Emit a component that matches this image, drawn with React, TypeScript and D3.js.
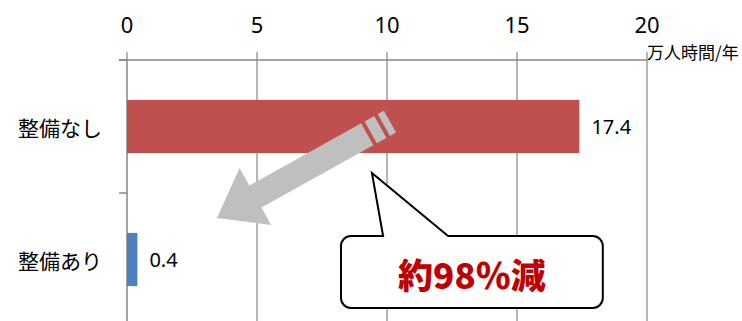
import React from "react";
import * as d3 from "d3";

const categories = ["整備なし", "整備あり"];
const values = [17.4, 0.4];
const barColors = ["#C0504D", "#4F81BD"];
const xTicks = [0, 5, 10, 15, 20];
const unitLabel = "万人時間/年";
const calloutText = "約98％減";

const W = 742;
const H = 321;

export default function App() {
  const x = d3.scaleLinear().domain([0, 20]).range([127, 647]);
  const y = d3
    .scaleBand<string>()
    .domain(categories)
    .range([60, 326])
    .paddingInner(0.6)
    .paddingOuter(0.3);
  const step = y.step();
  const bounds = [y.range()[0], y.range()[0] + step, y.range()[0] + 2 * step];
  const axisColor = "#868686";
  const numFont = "'Noto Sans', 'Liberation Sans', sans-serif";
  const cjkFont = "'Noto Sans CJK JP', sans-serif";

  // arrow annotation (local frame: tip at origin, +x toward tail)
  const tipX = x(3.46);
  const tipY = (y("整備あり") as number) - 15;
  const angle = -29.1;
  const headLen = 44;
  const headHalf = 32.5;
  const shaftHalf = 12.5;
  const shaftEnd = 172;
  const arrowPath = `M0,0 L${headLen},${-headHalf} L${headLen},${-shaftHalf} L${shaftEnd},${-shaftHalf} L${shaftEnd},${shaftHalf} L${headLen},${shaftHalf} L${headLen},${headHalf} Z`;
  const stripes = [
    [176, 187],
    [191, 198],
  ];

  // callout
  const bx0 = x(8.23);
  const bx1 = x(18.3);
  const by0 = 236;
  const by1 = 308;
  const r = 10;
  const pL = x(9.85);
  const pR = x(12.35);
  const ptX = x(9.42);
  const ptY = 173;
  const calloutPath = `M${bx0 + r},${by0} L${pL},${by0} L${ptX},${ptY} L${pR},${by0} L${bx1 - r},${by0} A${r},${r} 0 0 1 ${bx1},${by0 + r} L${bx1},${by1 - r} A${r},${r} 0 0 1 ${bx1 - r},${by1} L${bx0 + r},${by1} A${r},${r} 0 0 1 ${bx0},${by1 - r} L${bx0},${by0 + r} A${r},${r} 0 0 1 ${bx0 + r},${by0} Z`;

  return (
    <svg
      width={W}
      height={H}
      style={{ position: "absolute", left: 0, top: 0, background: "#fff" }}
    >
      <rect x={0} y={0} width={W} height={H} fill="#fff" />
      {/* grid lines */}
      {xTicks.slice(1).map((t) => (
        <line
          key={"g" + t}
          x1={x(t)}
          x2={x(t)}
          y1={60}
          y2={H}
          stroke={axisColor}
          strokeWidth={1.2}
        />
      ))}
      {/* top axis */}
      <line x1={119} x2={x(20)} y1={60} y2={60} stroke={axisColor} strokeWidth={1.5} />
      {xTicks.map((t) => (
        <g key={"t" + t}>
          <line x1={x(t)} x2={x(t)} y1={52} y2={60} stroke={axisColor} strokeWidth={1.2} />
          <text
            x={x(t)}
            y={33}
            textAnchor="middle"
            fontFamily={numFont}
            fontSize={22}
            fill="#000"
          >
            {t}
          </text>
        </g>
      ))}
      <text x={x(20)} y={59} fontFamily={cjkFont} fontSize={17} fill="#000">
        {unitLabel}
      </text>
      {/* category axis */}
      <line x1={x(0)} x2={x(0)} y1={60} y2={H} stroke={axisColor} strokeWidth={1.5} />
      {bounds.map((b, i) => (
        <line key={"c" + i} x1={119} x2={x(0)} y1={b} y2={b} stroke={axisColor} strokeWidth={1.5} />
      ))}
      {/* bars */}
      {categories.map((c, i) => {
        const yy = y(c) as number;
        return (
          <g key={c}>
            <rect
              x={x(0)}
              y={yy}
              width={x(values[i]) - x(0)}
              height={y.bandwidth()}
              fill={barColors[i]}
            />
            <text
              x={x(values[i]) + 12}
              y={yy + y.bandwidth() / 2}
              dominantBaseline="central"
              fontFamily={numFont}
              fontSize={20}
              fill="#000"
            >
              {values[i]}
            </text>
            <text
              x={102}
              y={yy + y.bandwidth() / 2}
              dominantBaseline="central"
              textAnchor="end"
              fontFamily={cjkFont}
              fontSize={21}
              fill="#000"
            >
              {c}
            </text>
          </g>
        );
      })}
      {/* arrow */}
      <g transform={`translate(${tipX},${tipY}) rotate(${angle})`} fill="#BFBFBF">
        <path d={arrowPath} />
        {stripes.map(([a, b], i) => (
          <rect key={i} x={a} y={-shaftHalf} width={b - a} height={shaftHalf * 2} />
        ))}
      </g>
      {/* callout */}
      <path d={calloutPath} fill="#fff" stroke="#000" strokeWidth={2} strokeLinejoin="miter" />
      <text
        x={(bx0 + bx1) / 2}
        y={(by0 + by1) / 2 + 1}
        textAnchor="middle"
        dominantBaseline="central"
        fontFamily={cjkFont}
        fontWeight={900}
        fontSize={35}
        fill="#C00000"
      >
        {calloutText}
      </text>
    </svg>
  );
}
